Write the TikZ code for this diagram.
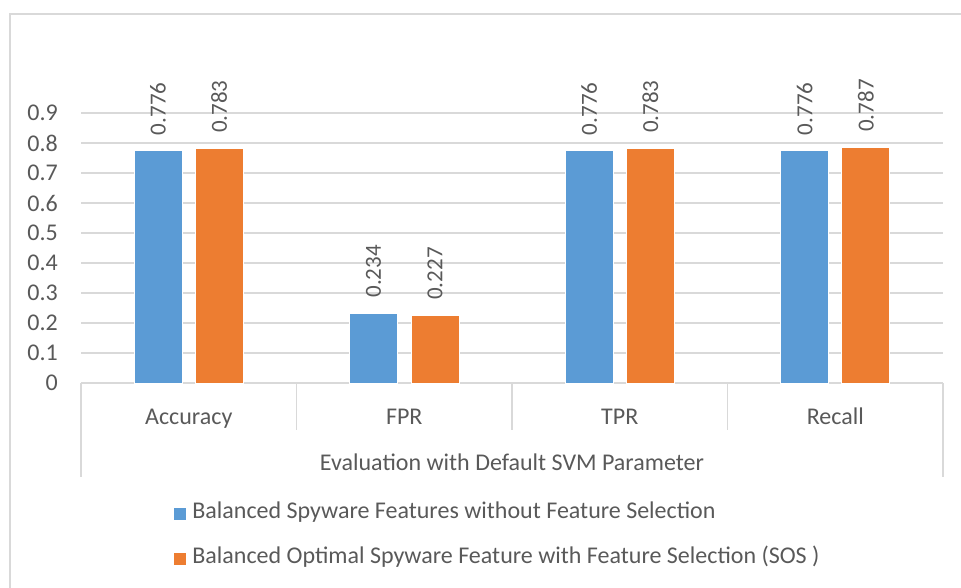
\documentclass[tikz,border=0pt]{standalone}
\usepackage{fontspec}
\setmainfont{Carlito}
\usetikzlibrary{positioning}
\definecolor{barblue}{HTML}{5B9BD5}
\definecolor{barorange}{HTML}{ED7D31}
\definecolor{gridgray}{HTML}{D9D9D9}
\definecolor{textgray}{HTML}{595959}
\tikzstyle{gridline} = [draw=gridgray, line width=1.5pt]
\tikzstyle{bluebar} = [rectangle, fill=barblue, draw=white, line width=0.6pt,
    minimum width=48pt, inner sep=0pt, outer sep=0pt, anchor=south]
\tikzstyle{orangebar} = [rectangle, fill=barorange, draw=white, line width=0.6pt,
    minimum width=48pt, inner sep=0pt, outer sep=0pt, anchor=south]
\tikzstyle{ticklabel} = [text=textgray, font=\fontsize{24}{28}\selectfont,
    anchor=east, inner sep=0pt]
\tikzstyle{catlabel} = [text=textgray, font=\fontsize{24}{28}\selectfont, inner sep=0pt,
    text height=15pt, text depth=5pt]
\tikzstyle{vallabel} = [text=textgray, font=\fontsize{23}{27}\selectfont,
    rotate=90, anchor=west, inner sep=0pt]
\tikzstyle{legkey} = [rectangle, minimum size=12pt, inner sep=0pt]

\begin{document}
\begin{tikzpicture}[x=1pt, y=-1pt]
    \useasboundingbox (0,0) rectangle (961,587);
    \clip (0,0) rectangle (961,587);
    % Frame
    \draw [gridline] (10,14) rectangle (980,600);
    % Grid
    \path [gridline] (81,383) -- (943,383);
    \path [gridline] (81,353) -- (943,353);
    \path [gridline] (81,323) -- (943,323);
    \path [gridline] (81,293) -- (943,293);
    \path [gridline] (81,263) -- (943,263);
    \path [gridline] (81,233) -- (943,233);
    \path [gridline] (81,203) -- (943,203);
    \path [gridline] (81,173) -- (943,173);
    \path [gridline] (81,143) -- (943,143);
    \path [gridline] (81,113) -- (943,113);
    % Tick labels
    \node [ticklabel] (t0) at (58,383) {0};
    \node [ticklabel] (t1) at (58,353) {0.1};
    \node [ticklabel] (t2) at (58,323) {0.2};
    \node [ticklabel] (t3) at (58,293) {0.3};
    \node [ticklabel] (t4) at (58,263) {0.4};
    \node [ticklabel] (t5) at (58,233) {0.5};
    \node [ticklabel] (t6) at (58,203) {0.6};
    \node [ticklabel] (t7) at (58,173) {0.7};
    \node [ticklabel] (t8) at (58,143) {0.8};
    \node [ticklabel] (t9) at (58,113) {0.9};
    % Category axis
    \path [gridline] (81,383) -- (81,477);
    \path [gridline] (296.5,383) -- (296.5,430);
    \path [gridline] (512,383) -- (512,430);
    \path [gridline] (727.5,383) -- (727.5,430);
    \path [gridline] (943,383) -- (943,477);
    % Place bars
    \node [bluebar, minimum height=232.8pt] (AccBlue) at (158,383) {};
    \node [orangebar, minimum height=234.9pt] (AccOrange) at (219,383) {};
    \node [bluebar, minimum height=70.2pt] (FprBlue) at (373.5,383) {};
    \node [orangebar, minimum height=68.1pt] (FprOrange) at (435,383) {};
    \node [bluebar, minimum height=232.8pt] (TprBlue) at (589.25,383) {};
    \node [orangebar, minimum height=234.9pt] (TprOrange) at (650.25,383) {};
    \node [bluebar, minimum height=232.8pt] (RecBlue) at (804.75,383) {};
    \node [orangebar, minimum height=236.1pt] (RecOrange) at (865.75,383) {};
    % Value labels
    \node [vallabel] (vAccBlue) at ([yshift=15pt]AccBlue.north) {0.776};
    \node [vallabel] (vAccOrange) at ([yshift=15pt]AccOrange.north) {0.783};
    \node [vallabel] (vFprBlue) at ([yshift=15pt]FprBlue.north) {0.234};
    \node [vallabel] (vFprOrange) at ([yshift=15pt]FprOrange.north) {0.227};
    \node [vallabel] (vTprBlue) at ([yshift=15pt]TprBlue.north) {0.776};
    \node [vallabel] (vTprOrange) at ([yshift=15pt]TprOrange.north) {0.783};
    \node [vallabel] (vRecBlue) at ([yshift=15pt]RecBlue.north) {0.776};
    \node [vallabel] (vRecOrange) at ([yshift=15pt]RecOrange.north) {0.787};
    % Category labels
    \node [catlabel] (catAcc) at (188.75,419) {Accuracy};
    \node [catlabel] (catFpr) at (404.25,419) {FPR};
    \node [catlabel] (catTpr) at (619.75,419) {TPR};
    \node [catlabel] (catRec) at (835.25,419) {Recall};
    \node [catlabel] (groupLabel) at (512,465) {Evaluation with Default SVM Parameter};
    % Legend
    \node [legkey, fill=barblue] (keyBlue) at (180,513.5) {};
    \node [catlabel, right=6pt of keyBlue] (legBlue) {Balanced Spyware Features without Feature Selection};
    \node [legkey, fill=barorange] (keyOrange) at (180,558.5) {};
    \node [catlabel, right=6pt of keyOrange] (legOrange) {Balanced Optimal Spyware Feature with Feature Selection (SOS )};
\end{tikzpicture}
\end{document}
